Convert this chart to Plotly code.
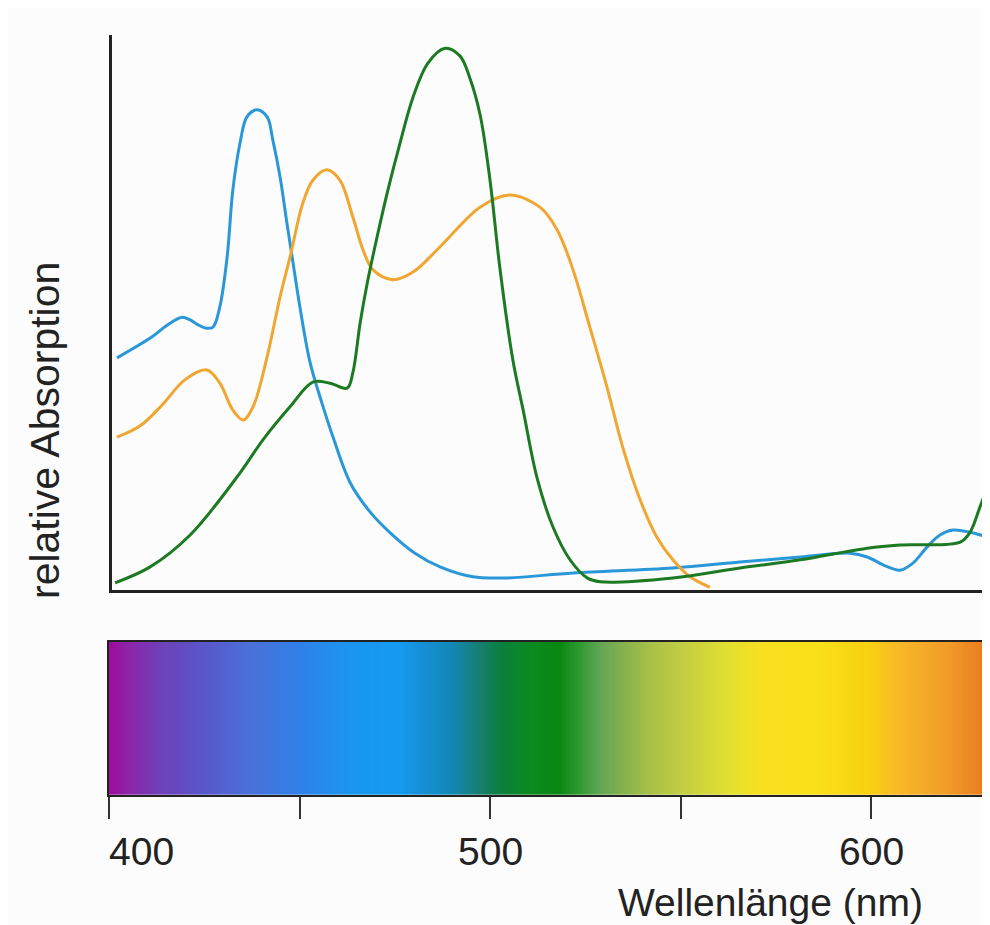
import numpy as np
import plotly.graph_objects as go

# page offset of the plot inside the browser body (default 8px margin)
OFF = 8
W, H = 990 - OFF, 925 - OFF

# ---- data (wavelength in nm, relative absorption in arbitrary units) ----
blue_nm = [402.1, 410.8, 416.0, 419.2, 421.3, 423.4, 425.5, 427.3, 429.1, 431.0, 432.5, 434.4,
           436.2, 438.8, 441.5, 443.0, 444.9, 446.7, 448.3, 450.1, 452.8, 456.2, 458.8, 463.3,
           468.5, 473.8, 480.3, 486.9, 495.5, 504.5, 521.8, 548.0, 565.6, 581.4, 594.5, 599.0,
           603.7, 607.6, 611.0, 614.7, 618.1, 621.5, 626.0, 631.2]
blue_val = [42.2, 45.8, 48.5, 49.6, 49.1, 48.2, 47.6, 47.8, 51.5, 60.5, 72.7, 81.3,
            86.0, 87.3, 86.0, 81.8, 75.1, 66.7, 59.5, 51.5, 41.3, 33.3, 27.8, 19.5,
            14.2, 10.4, 6.7, 4.2, 2.4, 2.2, 3.1, 4.0, 5.1, 6.0, 6.7, 6.0,
            4.4, 3.6, 4.9, 7.8, 10.0, 10.9, 10.5, 9.5]

orange_nm = [402.1, 408.1, 413.9, 419.9, 425.7, 429.1, 432.5, 435.2, 437.8, 441.5, 444.9, 447.5,
             450.9, 453.5, 457.2, 460.6, 464.0, 466.7, 469.3, 474.5, 479.8, 486.9, 497.4, 505.2,
             513.1, 517.6, 521.8, 526.2, 530.7, 534.9, 539.4, 543.8, 548.0, 552.5, 557.7]
orange_val = [27.8, 29.8, 33.6, 38.2, 40.0, 37.6, 32.7, 30.9, 33.3, 42.4, 53.3, 60.5,
              70.4, 74.5, 76.4, 74.5, 67.8, 61.8, 58.2, 56.4, 57.8, 62.4, 69.6, 71.8,
              69.6, 65.5, 58.2, 47.8, 36.9, 25.8, 16.4, 9.6, 5.5, 2.4, 0.5]

green_nm = [401.6, 410.8, 421.3, 434.4, 440.4, 447.5, 453.5, 458.0, 462.5, 464.0, 465.9, 467.7,
            470.3, 473.2, 476.4, 479.8, 483.7, 488.2, 492.1, 494.7, 497.4, 500.0, 502.6,
            506.0, 508.7, 512.3, 516.5, 521.0, 525.5, 528.9, 548.0, 565.6, 581.4, 599.0, 607.6,
            623.4, 626.0, 628.6, 631.2]
green_val = [1.3, 4.2, 10.0, 21.3, 27.3, 33.3, 37.8, 37.6, 36.7, 39.5, 48.5, 55.5,
             64.0, 72.7, 81.3, 89.6, 95.8, 98.5, 97.1, 93.1, 86.4, 74.5, 58.5,
             41.8, 32.7, 20.5, 11.5, 5.5, 2.2, 1.5, 2.2, 4.0, 5.5, 7.6, 8.2,
             8.7, 10.5, 15.1, 20.0]

# spectrum colour ramp
spec_nm = [400, 405.5, 413.4, 423.9, 437.0, 450.1, 463.3, 476.4, 481.6, 489.5, 498.2, 502.6,
           510.5, 518.4, 523.6, 528.9, 534.1, 542.0, 552.5, 563.0, 570.9, 586.6, 599.7, 607.6,
           620.7, 628.6, 631.2]
spec_col = ["#9e0c9c", "#8a26a8", "#7040b8", "#5a55c8", "#4a70d8", "#3080e8", "#1a96f0", "#159af0",
            "#1690d8", "#1288b8", "#167e68", "#0a8040", "#0a8a20", "#0a8812", "#309a30", "#62a656",
            "#80b050", "#a8c048", "#c8d040", "#e4e030", "#f8e020", "#f9e018", "#f8d010", "#f8b828",
            "#f09a28", "#ec8020", "#e87018"]

tick_vals = [400, 450, 500, 550, 600]
label_vals = [400, 500, 600]

X_MIN, X_MAX = 400.0, 631.23
Y_MAX = 100.9


def fx(px):
    return (px - OFF) / W


def fy(py):
    return 1 - (py - OFF) / H


fig = go.Figure()

# spectrum bar
grid = np.arange(X_MIN, X_MAX + 0.5, 0.5)
cs = [[(n - X_MIN) / (X_MAX - X_MIN), c] for n, c in zip(spec_nm, spec_col)]
cs[-1][0] = 1.0
fig.add_trace(go.Heatmap(x=grid, y=[0.5], z=[grid.tolist()], colorscale=cs,
                         zmin=X_MIN, zmax=X_MAX, showscale=False, hoverinfo="skip",
                         xaxis="x2", yaxis="y2"))

line_w = 3
for xs, ys, col in [(blue_nm, blue_val, "#2a98d8"),
                    (orange_nm, orange_val, "#f0a630"),
                    (green_nm, green_val, "#1c7a22")]:
    fig.add_trace(go.Scatter(x=xs, y=ys, mode="lines", hoverinfo="skip",
                             line=dict(color=col, width=line_w, shape="spline", smoothing=1.0)))

font_fam = "Liberation Sans, Arial, sans-serif"
txt_col = "#222222"

fig.update_layout(
    width=W, height=H,
    margin=dict(l=0, r=0, t=0, b=0),
    paper_bgcolor="#fcfcfc", plot_bgcolor="rgba(0,0,0,0)",
    showlegend=False,
    xaxis=dict(domain=[fx(112), 1], range=[400 + 3 / 3.81, X_MAX], showline=True,
               linecolor="#222", linewidth=2.5, showgrid=False, zeroline=False,
               showticklabels=False, ticks="", anchor="y"),
    yaxis=dict(domain=[fy(590), fy(35)], range=[0, Y_MAX], showline=True,
               linecolor="#222", linewidth=2.5, showgrid=False, zeroline=False,
               showticklabels=False, ticks="", anchor="x"),
    xaxis2=dict(domain=[fx(109), 1], range=[X_MIN, X_MAX], anchor="y2", showline=True,
                mirror=True, linecolor="#222", linewidth=2, showgrid=False, zeroline=False,
                tickmode="array", tickvals=tick_vals, ticks="outside", ticklen=22,
                tickwidth=1.6, tickcolor="#333", showticklabels=False),
    yaxis2=dict(domain=[fy(795), fy(641.7)], range=[0, 1], anchor="x2", showline=True,
                linecolor="#222", linewidth=2, showgrid=False, zeroline=False,
                showticklabels=False, ticks=""),
)

annotations = [
    dict(text="relative Absorption", xref="paper", yref="paper", x=fx(45), y=fy(431),
         textangle=-90, showarrow=False, xanchor="center", yanchor="middle",
         font=dict(family=font_fam, size=41, color=txt_col)),
    dict(text="Wellenlänge (nm)", xref="paper", yref="paper", x=fx(770), y=fy(902),
         showarrow=False, xanchor="center", yanchor="middle",
         font=dict(family=font_fam, size=39, color=txt_col)),
]
for v in label_vals:
    annotations.append(dict(text=str(v), xref="x2", yref="paper", x=v, y=fy(851),
                            showarrow=False, xanchor="left" if v == label_vals[0] else "center",
                            yanchor="middle", xshift=-2 if v == label_vals[0] else 0,
                            font=dict(family=font_fam, size=39, color=txt_col)))
fig.update_layout(annotations=annotations)

fig.write_html("out.html")
